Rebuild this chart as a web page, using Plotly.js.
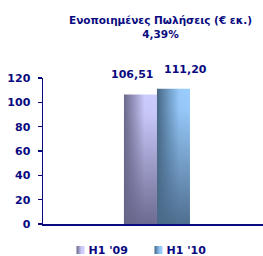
<!DOCTYPE html>
<html>
<head>
<meta charset="utf-8">
<script src="https://cdn.plot.ly/plotly-3.0.1.min.js"></script>
<style>
html,body{margin:0;padding:0;background:#fff;}
#chart{width:263px;height:256px;}
</style>
</head>
<body>
<div id="chart"></div>
<script>
const categories = ['Πωλήσεις'];
const seriesNames = ["H1 '09", "H1 '10"];
const valuesH109 = [106.51];
const valuesH110 = [111.20];
const yTicks = [0, 20, 40, 60, 80, 100, 120];
const titleLines = ['Ενοποιημένες Πωλήσεις (€ εκ.)', '4,39%'];

const navy = '#0a0a80';
const fontFam = 'DejaVu Sans, Verdana, sans-serif';

const traces = [
  {type: 'bar', name: seriesNames[0], x: categories, y: valuesH109,
   marker: {color: '#8a88aa', line: {width: 0}}, hoverinfo: 'none'},
  {type: 'bar', name: seriesNames[1], x: categories, y: valuesH110,
   marker: {color: '#6a8cb0', line: {width: 0}}, hoverinfo: 'none'}
];

const fmt = v => v.toFixed(2).replace('.', ',');
const annotations = [
  {x: categories[0], y: valuesH109[0], text: '<b>' + fmt(valuesH109[0]) + '</b>', xshift: -25, yshift: 11},
  {x: categories[0], y: valuesH110[0], text: '<b>' + fmt(valuesH110[0]) + '</b>', xshift: 29, yshift: 11}
].map(a => Object.assign({xref: 'x', yref: 'y', showarrow: false, yanchor: 'bottom',
  font: {family: fontFam, size: 11, color: navy}}, a));

annotations.push({
  xref: 'paper', yref: 'paper', x: 0.532, y: 1.45, xanchor: 'center', yanchor: 'top',
  showarrow: false, text: '<b>' + titleLines.join('<br>') + '</b>',
  font: {family: fontFam, size: 10.5, color: navy}
});

const layout = {
  width: 263, height: 256,
  margin: {l: 43, r: 0, t: 78, b: 30, pad: 0},
  paper_bgcolor: '#ffffff', plot_bgcolor: '#ffffff',
  separators: ',.',
  barmode: 'group', bargap: 0.7, bargroupgap: 0,
  xaxis: {range: [-0.518, 0.482], showticklabels: false, showline: true, linecolor: navy, linewidth: 1.5,
          showgrid: false, zeroline: false, ticks: '', fixedrange: true},
  yaxis: {range: [0, 120], tickvals: yTicks, ticktext: yTicks.map(String), showline: true, linecolor: navy, linewidth: 1.5,
          ticks: 'outside', ticklen: 4, tickcolor: navy, tickwidth: 1.5, showgrid: false, zeroline: false,
          ticklabelstandoff: 5,
          tickfont: {family: fontFam, size: 11, color: navy, weight: 'bold'}, fixedrange: true},
  showlegend: true,
  legend: {orientation: 'h', x: 0.12, xanchor: 'left', y: -0.02, yanchor: 'top',
           font: {family: fontFam, size: 11, color: navy, weight: 'bold'}, itemwidth: 30, traceorder: 'normal'},
  annotations: annotations
};

Plotly.newPlot('chart', traces, layout, {displayModeBar: false, staticPlot: true}).then(gd => {
  const svg = gd.querySelector('svg.main-svg');
  const ns = 'http://www.w3.org/2000/svg';
  let defs = svg.querySelector('defs');
  if (!defs) { defs = document.createElementNS(ns, 'defs'); svg.insertBefore(defs, svg.firstChild); }
  function addGrad(id, coords, stops) {
    const lg = document.createElementNS(ns, 'linearGradient');
    lg.setAttribute('id', id);
    lg.setAttribute('x1', coords[0]); lg.setAttribute('y1', coords[1]);
    lg.setAttribute('x2', coords[2]); lg.setAttribute('y2', coords[3]);
    stops.forEach(s => {
      const st = document.createElementNS(ns, 'stop');
      st.setAttribute('offset', s[0]); st.setAttribute('stop-color', s[1]);
      st.setAttribute('stop-opacity', s[2] === undefined ? 1 : s[2]);
      lg.appendChild(st);
    });
    defs.appendChild(lg);
  }
  addGrad('gb0', [0, 0, 1, 0], [[0, '#6a6888'], [0.3, '#9896c0'], [0.62, '#cbcbfc'], [1, '#ccccff']]);
  addGrad('gb1', [0, 0, 1, 0], [[0, '#466683'], [0.35, '#6f9cc6'], [0.68, '#98cafc'], [1, '#9acdff']]);
  addGrad('vb0', [0, 0, 0, 1], [[0, '#67658a', 0], [0.15, '#67658a', 0.05], [1, '#67658a', 0.95]]);
  addGrad('vb1', [0, 0, 0, 1], [[0, '#4b6a8a', 0], [0.15, '#4b6a8a', 0.05], [1, '#4b6a8a', 0.95]]);
  gd.querySelectorAll('.barlayer .trace').forEach((t, i) => {
    t.querySelectorAll('path').forEach(p => {
      p.style.fill = 'url(#gb' + i + ')';
      const c = p.cloneNode(true);
      c.style.fill = 'url(#vb' + i + ')';
      p.parentNode.insertBefore(c, p.nextSibling);
    });
  });
  const targetsX = [80.5, 158.5];
  const targetY = 250;
  const svgRect = svg.getBoundingClientRect();
  gd.querySelectorAll('.legend .traces').forEach((item, i) => {
    const p = item.querySelector('.legendpoints path');
    if (!p) return;
    p.style.fill = 'url(#gb' + i + ')';
    p.setAttribute('d', 'M4,4H-4V-4H4Z');
    const r = p.getBoundingClientRect();
    const txt = item.querySelector('text.legendtext');
    if (txt) {
      const tr = txt.getBoundingClientRect();
      const tx = parseFloat(txt.getAttribute('x')) || 0;
      txt.setAttribute('x', tx - (tr.left - (r.right + 4)));
    }
    const cx = r.left + r.width / 2 - svgRect.left;
    const cy = r.top + r.height / 2 - svgRect.top;
    const m = /translate\(\s*([-\d.]+)[ ,]+([-\d.]+)\s*\)/.exec(item.getAttribute('transform') || '');
    const a = m ? parseFloat(m[1]) : 0, b = m ? parseFloat(m[2]) : 0;
    item.setAttribute('transform', 'translate(' + (a + targetsX[i] - cx) + ',' + (b + targetY - cy) + ')');
  });
});
</script>
</body>
</html>
